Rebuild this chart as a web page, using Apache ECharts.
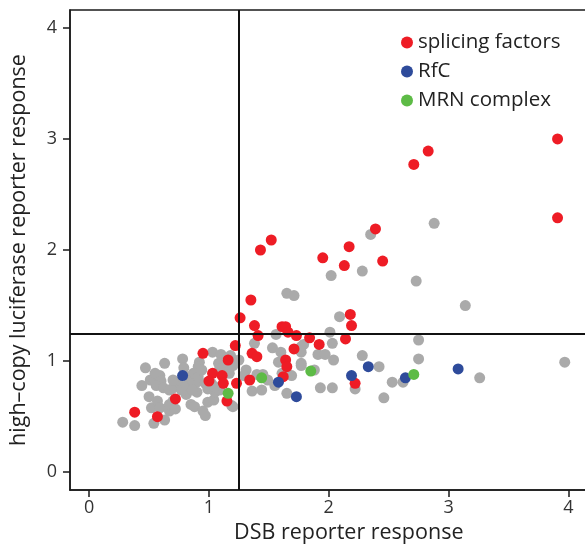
<!DOCTYPE html>
<html>
<head>
<meta charset="utf-8">
<script src="https://cdn.jsdelivr.net/npm/echarts@6/dist/echarts.min.js"></script>
<style>html,body{margin:0;padding:0;background:#fff;}#c{width:585px;height:550px;}</style>
</head>
<body>
<div id="c"></div>
<script>
var xTicks = [0, 1, 2, 3, 4];
var yTicks = [0, 1, 2, 3, 4];
var thresholdX = 1.25;
var thresholdY = 1.25;

var otherGenes = [
  [0.28,0.45],[0.38,0.42],[0.54,0.44],[0.63,0.47],[0.44,0.78],[0.47,0.94],[0.50,0.68],[0.52,0.58],
  [0.57,0.64],[0.59,0.58],[0.51,0.83],[0.54,0.84],[0.55,0.89],[0.59,0.87],[0.60,0.82],[0.63,0.98],
  [0.67,0.61],[0.67,0.55],[0.69,0.75],[0.72,0.77],[0.74,0.81],[0.70,0.64],[0.78,1.02],[0.79,0.94],
  [0.81,0.70],[0.85,0.80],[0.90,0.81],[0.83,0.86],[0.87,0.89],[0.85,0.61],[0.88,0.59],[0.90,0.72],
  [0.92,0.99],[0.91,0.95],[1.03,1.08],[1.10,1.06],[1.08,0.98],[1.13,0.95],[0.97,0.51],[0.99,0.63],
  [1.04,0.65],[1.05,0.72],[1.09,0.74],[1.02,0.80],[1.19,0.60],[0.56,0.78],[0.62,0.76],[0.67,0.74],
  [0.70,0.83],[0.77,0.74],[0.81,0.78],[0.86,0.83],[0.88,0.89],[0.91,0.86],[0.86,0.74],[0.94,0.92],
  [0.97,0.80],[0.99,0.75],[1.09,0.93],[1.05,0.77],[0.69,0.60],[0.72,0.57],[0.95,0.55],[1.18,1.05],
  [1.20,0.96],[1.17,0.89],[1.20,0.59],
  [2.35,2.14],[2.28,1.81],[2.02,1.77],[1.65,1.61],[1.71,1.59],[2.09,1.40],[1.56,1.24],[2.01,1.26],
  [1.38,1.16],[1.53,1.12],[1.60,1.08],[1.77,1.13],[1.79,1.15],[2.03,1.16],[1.77,1.08],[1.91,1.06],
  [1.97,1.06],[2.28,1.05],[2.04,1.01],[1.58,0.99],[1.77,0.98],[1.77,0.96],[2.42,0.95],[1.88,0.92],
  [1.25,1.01],[1.31,0.92],[1.29,0.87],[1.40,0.88],[1.45,0.88],[1.49,0.83],[1.55,0.78],[1.61,0.89],
  [1.69,0.87],[1.36,0.73],[1.44,0.74],[1.65,0.71],[1.93,0.76],[2.03,0.76],[2.22,0.75],[2.53,0.81],
  [2.62,0.81],[2.46,0.67],[2.75,1.19],[2.75,1.02],[2.88,2.24],[2.73,1.72],[3.14,1.50],[3.97,0.99],
  [3.26,0.85]
];

var splicingFactors = [
  [2.83,2.89],[2.71,2.77],[3.91,3.00],[3.91,2.29],[2.45,1.90],[2.39,2.19],[1.52,2.09],[1.43,2.00],
  [2.17,2.03],[1.95,1.93],[2.13,1.86],[1.35,1.55],[1.26,1.39],[2.18,1.42],[2.19,1.32],[1.38,1.32],
  [1.61,1.31],[1.64,1.31],[1.66,1.26],[1.41,1.23],[1.73,1.23],[1.84,1.21],[2.14,1.20],[1.22,1.14],
  [1.92,1.15],[1.71,1.11],[1.36,1.07],[1.40,1.04],[1.64,1.01],[1.65,0.95],[1.62,0.86],[1.34,0.83],
  [1.23,0.80],[2.22,0.80],[0.95,1.07],[1.16,1.01],[1.03,0.89],[1.11,0.87],[1.00,0.82],[1.12,0.80],
  [1.15,0.64],[0.72,0.66],[0.38,0.54],[0.57,0.50]
];

var rfc = [[0.78,0.87],[1.58,0.81],[1.73,0.68],[2.19,0.87],[2.33,0.95],[2.64,0.85],[3.08,0.93]];
var mrnComplex = [[1.16,0.71],[1.44,0.85],[1.85,0.91],[2.71,0.88]];

var FONT = '"Open Sans"';
var chart = echarts.init(document.getElementById('c'), null, {renderer: 'canvas'});
var axisCommon = {
  type: 'value',
  min: -0.16,
  max: 4.16,
  splitLine: {show: false},
  axisLine: {show: true, onZero: false, lineStyle: {color: '#1a1a1a', width: 1.5}},
  axisTick: {show: true, length: 7, customValues: null, lineStyle: {color: '#1a1a1a', width: 1.5}},
  axisLabel: {color: '#333', fontSize: 18, fontFamily: FONT, margin: 9}
};
var xAxis = JSON.parse(JSON.stringify(axisCommon));
xAxis.axisTick.customValues = xTicks;
xAxis.axisLabel.customValues = xTicks;
xAxis.name = 'DSB reporter response';
xAxis.nameLocation = 'middle';
xAxis.nameGap = 32;
xAxis.nameTextStyle = {color: '#222', fontSize: 21.5, fontFamily: FONT, padding: [0, 0, 0, 40]};
var yAxis = JSON.parse(JSON.stringify(axisCommon));
yAxis.axisTick.customValues = yTicks;
yAxis.axisLabel.customValues = yTicks;
yAxis.axisLabel.margin = 13;
yAxis.name = 'high\u2013copy luciferase reporter response';
yAxis.nameLocation = 'middle';
yAxis.nameGap = 40;
yAxis.nameTextStyle = {color: '#222', fontSize: 21.5, fontFamily: FONT};

function sc(name, data, color) {
  return {name: name, type: 'scatter', data: data, symbolSize: 11,
    itemStyle: {color: color, opacity: 1}, silent: true, z: 3};
}
var gray = sc('other', otherGenes, '#aaaaaa');
gray.markLine = {
  silent: true, symbol: 'none', label: {show: false},
  lineStyle: {color: '#111', width: 2, type: 'solid'},
  data: [{xAxis: thresholdX}, {yAxis: thresholdY}]
};

chart.setOption({
  animation: false,
  backgroundColor: '#fff',
  grid: {left: 70, top: 10, width: 517.5, height: 480, show: true, borderColor: '#1a1a1a', borderWidth: 1.5,
    backgroundColor: 'transparent', containLabel: false, outerBoundsMode: 'none'},
  legend: {
    data: ['splicing factors', 'RfC', 'MRN complex'],
    orient: 'vertical', left: 396, top: 27, icon: 'circle', itemWidth: 12, itemHeight: 12, itemGap: 8,
    textStyle: {color: '#222', fontSize: 20.5, fontFamily: FONT}, selectedMode: false
  },
  xAxis: xAxis,
  yAxis: yAxis,
  series: [
    gray,
    sc('splicing factors', splicingFactors, '#ee1c25'),
    sc('RfC', rfc, '#2e4b9b'),
    sc('MRN complex', mrnComplex, '#5dbb46')
  ]
});
</script>
</body>
</html>
